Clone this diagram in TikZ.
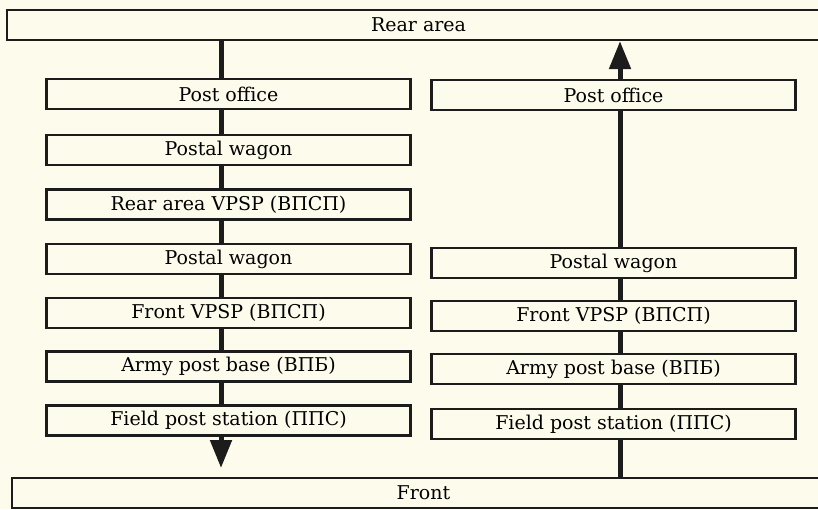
\documentclass[tikz,border=0pt]{standalone}
\usepackage{fontspec}
\setmainfont{DejaVu Serif}
\newfontfamily\boxfam{DejaVu Serif}
\usetikzlibrary{arrows.meta,positioning}
\definecolor{papercol}{RGB}{253,252,236}
\definecolor{inkcol}{RGB}{28,28,28}
\tikzset{
  bandbox/.style={draw=inkcol, line width=2.2pt, fill=papercol, minimum width=823pt,
    minimum height=30pt, inner sep=0pt, font=\boxfam\fontsize{19}{23}\selectfont},
  stagebox/.style={draw=inkcol, line width=2.2pt, fill=papercol, minimum width=364pt,
    minimum height=30pt, inner sep=0pt, font=\boxfam\fontsize{19}{23}\selectfont},
  routeln/.style={draw=inkcol, line width=5pt},
  routearr/.style={routeln, -{Triangle[length=28pt,width=21pt]}},
}

\begin{document}
\begin{tikzpicture}[x=1pt,y=-1pt]
    \fill[papercol] (0,0) rectangle (818,509);
    \useasboundingbox (0,0) rectangle (818,509);
    \node[bandbox] (rear) at (418.5,25) {Rear area};
    \node[bandbox] (front) at (423.5,493) {Front};
    % towards the front
    \node[stagebox] (lpo) at (228.5,94) {Post office};
    \node[stagebox] (lpwa) at (228.5,150) {Postal wagon};
    \node[stagebox] (lvpsp) at (228.5,204.5) {Rear area VPSP (ВПСП)};
    \node[stagebox] (lpwb) at (228.5,259) {Postal wagon};
    \node[stagebox] (lfvpsp) at (228.5,313) {Front VPSP (ВПСП)};
    \node[stagebox] (lapb) at (228.5,366.5) {Army post base (ВПБ)};
    \node[stagebox] (lfps) at (228.5,420.5) {Field post station (ППС)};
    % towards the rear
    \node[stagebox] (rpo) at (613.5,95) {Post office};
    \node[stagebox] (rpw) at (613.5,263) {Postal wagon};
    \node[stagebox] (rfvpsp) at (613.5,316) {Front VPSP (ВПСП)};
    \node[stagebox] (rapb) at (613.5,369) {Army post base (ВПБ)};
    \node[stagebox] (rfps) at (613.5,424) {Field post station (ППС)};
    \coordinate (lx) at (221,0);
    \coordinate (rx) at (620,0);
    \coordinate (ltip) at (221,468);
    \foreach \a/\b in {rear/lpo, lpo/lpwa, lpwa/lvpsp, lvpsp/lpwb, lpwb/lfvpsp,
        lfvpsp/lapb, lapb/lfps} {
      \draw[routeln] (\a.south -| lx) -- (\b.north -| lx);
    }
    \draw[routearr] (lfps.south -| lx) -- (ltip);
    \foreach \a/\b in {front/rfps, rfps/rapb, rapb/rfvpsp, rfvpsp/rpw, rpw/rpo} {
      \draw[routeln] (\a.north -| rx) -- (\b.south -| rx);
    }
    \draw[routearr] (rpo.north -| rx) -- (rear.south -| rx);
  \end{tikzpicture}
\end{document}
